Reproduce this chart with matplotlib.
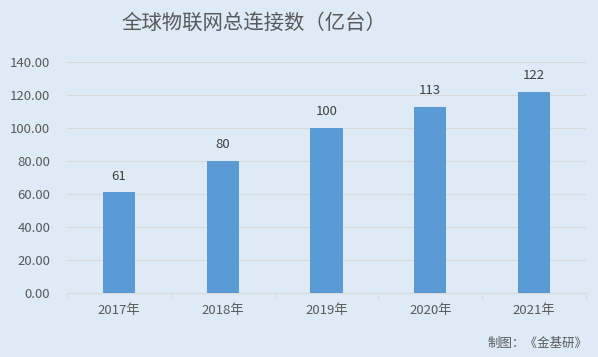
import numpy as np
import matplotlib.pyplot as plt

plt.rcParams['font.family'] = ['Noto Sans CJK SC', 'DejaVu Sans']

years = ['2017年', '2018年', '2019年', '2020年', '2021年']
values = [61, 80, 100, 113, 122]
yticks = [0, 20, 40, 60, 80, 100, 120, 140]

bg = '#DEEAF6'
fig = plt.figure(figsize=(5.98, 3.57), dpi=100, facecolor=bg)
ax = fig.add_axes([0.112, 0.179, 0.868, 0.647], facecolor=bg)

x = np.arange(len(years))
ax.bar(x, values, width=0.31, color='#5B9BD5', zorder=3)
for xi, v in zip(x, values):
    ax.text(xi, v + 6, str(v), ha='center', va='bottom', fontsize=9.5, color='#404040')

ax.set_xlim(-0.5, len(years) - 0.5)
ax.set_ylim(0, 140)
ax.set_yticks(yticks)
ax.set_yticklabels([f'{t:.2f}' for t in yticks], fontsize=9.5, color='#595959')
ax.set_xticks(x)
ax.set_xticklabels(years, fontsize=9.5, color='#595959')
ax.tick_params(axis='y', length=0, pad=12)
ax.tick_params(axis='x', length=0, pad=8)

# minor ticks at category borders
ax.set_xticks(np.arange(-0.5, len(years)), minor=True)
ax.tick_params(axis='x', which='minor', length=5, color='#D9D9D9', direction='out')

ax.grid(axis='y', color='#D9D9D9', linewidth=0.8, zorder=0)
for s in ['top', 'right', 'left']:
    ax.spines[s].set_visible(False)
ax.spines['bottom'].set_color('#D9D9D9')

fig.text(0.425, 0.935, '全球物联网总连接数（亿台）', ha='center', va='center',
         fontsize=14.7, color='#595959')
fig.text(0.983, 0.037, '制图：《金基研》', ha='right', va='center',
         fontsize=9, color='#595959')

fig.savefig('out.png', dpi=100, facecolor=bg)
